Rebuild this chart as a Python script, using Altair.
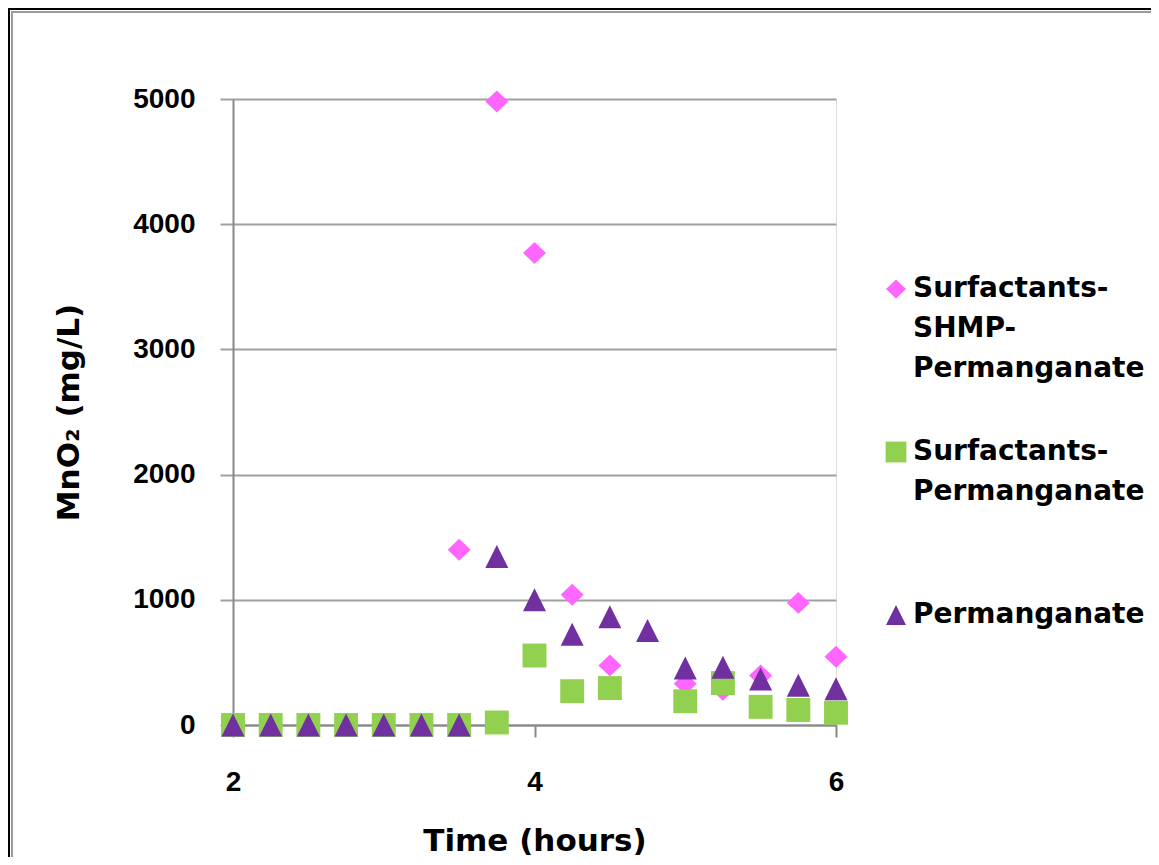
import json
import altair as alt
import pandas as pd

# ---- data ----
times = [2.0, 2.25, 2.5, 2.75, 3.0, 3.25, 3.5, 3.75, 4.0, 4.25, 4.5, 4.75, 5.0, 5.25, 5.5, 5.75, 6.0]
series_names = ["Surfactants-SHMP-Permanganate", "Surfactants-Permanganate", "Permanganate"]
shmp_values = [0, 0, 0, 0, 0, 0, 1400, 4980, 3770, 1040, 475, None, 330, 280, 395, 975, 545]
surf_values = [0, 0, 0, 0, 0, 0, 0, 20, 555, 270, 295, None, 190, 335, 145, 120, 98]
perm_values = [0, 0, 0, 0, 0, 0, 0, 1345, 1000, 725, 865, 755, 455, 462, 368, 318, 290]
series_colors = ["#FF66FF", "#92D050", "#7030A0"]
legend_lines = [["Surfactants-", "SHMP-", "Permanganate"],
                ["Surfactants-", "Permanganate"],
                ["Permanganate"]]
x_ticks = [2, 4, 6]
y_ticks = [0, 1000, 2000, 3000, 4000, 5000]

# marker shapes (unit-square paths): diamond, square, triangle
series_shapes = ["M0,-0.95L1,0L0,0.95L-1,0Z",
                 "M-1.04,-1.04L1.04,-1.04L1.04,1.04L-1.04,1.04Z",
                 "M-1,1L1,1L0,-1Z"]

rows = []
for name, vals in zip(series_names, [shmp_values, surf_values, perm_values]):
    for t, v in zip(times, vals):
        if v is not None:
            rows.append({"series": name, "time": t, "value": v})
df = pd.DataFrame(rows)

# multi-line legend labels
expr = "datum.label"
for name, lines in reversed(list(zip(series_names, legend_lines))):
    expr = f"datum.label == {json.dumps(name)} ? {json.dumps(lines)} : ({expr})"

legend = alt.Legend(
    title=None, orient="none", legendX=649, legendY=176, padding=0,
    labelExpr=expr, labelFont="DejaVu Sans", labelFontWeight="bold",
    labelFontSize=28, labelLimit=600, labelColor="black",
    labelBaseline="middle", labelOffset=3, symbolSize=400, symbolStrokeWidth=0,
    symbolOpacity=1, rowPadding=55, gridAlign="all",
)

x_axis = alt.Axis(
    values=x_ticks, grid=False, tickSize=12, tickWidth=2, tickColor="#888888",
    domainColor="#888888", domainWidth=2, labelPadding=53, labelBaseline="alphabetic",
    labelFont="Liberation Sans", labelFontSize=28, labelFontWeight="bold",
    labelColor="black", labelFlush=False, labelOverlap=False,
    title="Time (hours)", titleFont="DejaVu Sans", titleFontSize=31,
    titleFontWeight="bold", titleColor="black", titleX=301.5, titleY=125,
    titleBaseline="alphabetic", titleAlign="center",
)
y_axis = alt.Axis(
    values=y_ticks, format="d", grid=True, gridColor="#a0a0a0", gridWidth=2,
    tickSize=13, tickWidth=2, tickColor="#a0a0a0",
    domainColor="#888888", domainWidth=2, labelPadding=25, labelBaseline="middle",
    labelFont="Liberation Sans", labelFontSize=28, labelFontWeight="bold",
    labelColor="black", labelFlush=False, labelOverlap=False,
    title="MnO₂ (mg/L)", titleFont="DejaVu Sans", titleFontSize=31,
    titleFontWeight="bold", titleColor="black", titleAngle=270,
    titleX=-155, titleY=313, titleBaseline="alphabetic", titleAlign="center",
)

points = alt.Chart(df).mark_point(filled=True, opacity=1, size=529, strokeWidth=0).encode(
    x=alt.X("time:Q", scale=alt.Scale(domain=[2, 6], nice=False, zero=False), axis=x_axis),
    y=alt.Y("value:Q", scale=alt.Scale(domain=[0, 5000], nice=False), axis=y_axis),
    color=alt.Color("series:N", scale=alt.Scale(domain=series_names, range=series_colors),
                    legend=legend, sort=series_names),
    shape=alt.Shape("series:N", scale=alt.Scale(domain=series_names, range=series_shapes),
                    legend=legend, sort=series_names),
)

# frame lines (top and left) of the picture
one = alt.Data(values=[{"k": 0}])
top_black = alt.Chart(one).mark_rule(color="black", strokeWidth=2).encode(
    x=alt.value(-225), x2=alt.value(926), y=alt.value(-90))
top_gray = alt.Chart(one).mark_rule(color="#9a9a9a", strokeWidth=2).encode(
    x=alt.value(-222), x2=alt.value(926), y=alt.value(-87))
left_black = alt.Chart(one).mark_rule(color="black", strokeWidth=2).encode(
    x=alt.value(-224), y=alt.value(-91), y2=alt.value(760))
left_gray = alt.Chart(one).mark_rule(color="#9a9a9a", strokeWidth=2).encode(
    x=alt.value(-221), y=alt.value(-88), y2=alt.value(760))

chart = alt.layer(top_black, top_gray, left_black, left_gray, points).properties(
    width=603, height=626,
    autosize=alt.AutoSizeParams(type="none"),
    padding={"left": 225, "top": 91, "right": 315, "bottom": 132},
    background="white",
).configure_view(strokeWidth=0).configure(
    style={"guide-label": {"lineHeight": 40}}
)

chart.save("out.html", embed_options={"renderer": "svg", "actions": False})
